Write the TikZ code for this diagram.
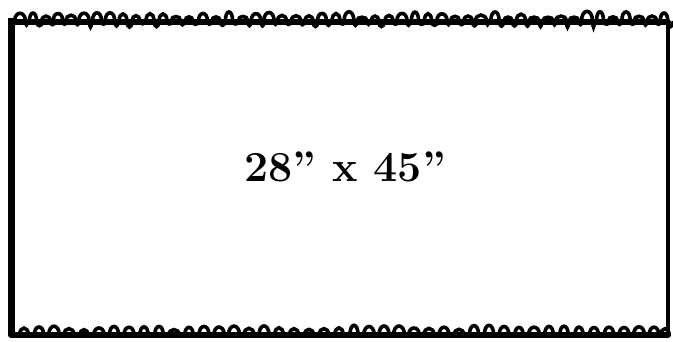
\documentclass[tikz,border=0pt]{standalone}
\usepackage{fontspec}
\begin{document}
\begin{tikzpicture}[x=1bp,y=-1bp,
  edge/.style={line width=6bp,line cap=round,line join=round},
  bump/.style={line width=3.6bp,line cap=round},
  label/.style={font=\fontsize{43}{48}\selectfont\bfseries,inner sep=0pt}]
\useasboundingbox (0,0) rectangle (673,341);
\coordinate (tl) at (11,22);
\coordinate (tr) at (668,22);
\coordinate (bl) at (11,335);
\coordinate (br) at (668,335);
\coordinate (tlc) at (11,18);
\draw[line width=7bp] (tlc) -- (bl);
\draw[line width=4.5bp] (tr) -- (br);
\draw[edge] (tl) -- (tr);
\draw[edge] (bl) -- (br);
\pgfmathsetseed{11}
\foreach \x in {20,33,46,58,71,84,97,110,123,136,150,163,176,189,203,216,229,243,256,269,282,296,309,322,336,349,362,375,389,402,415,428,442,455,468,481,495,508,521,534,548,561,574,587,600,613,626,639,652,664} {
  \pgfmathsetmacro\h{5+8*rnd}
  \pgfmathsetmacro\w{3.5+2*rnd}
  \pgfmathsetmacro\d{2+5*rnd}
  \draw[bump] (\x-\w,21) .. controls (\x-\w,21-\h) and (\x+\w,21-\h) .. (\x+\w,21);
  \draw[bump] (\x+\w,22) .. controls (\x+\w+1,22+\d) and (\x+13-\w-1,22+\d) .. (\x+13-\w,22);
}
\foreach \x in {24,39,54,69,84,99,114,129,144,159,174,189,204,219,234,249,264,279,294,309,324,339,354,369,384,399,414,429,444,459,474,489,504,519,534,549,564,579,594,609,624,639,654,665} {
  \pgfmathsetmacro\h{7+6*rnd}
  \pgfmathsetmacro\w{4+1.5*rnd}
  \draw[bump] (\x-\w,335) .. controls (\x-\w,335-\h) and (\x+\w,335-\h) .. (\x+\w,335);
}
\node[label] (dim) at (345,167) {28” x 45”};
\end{tikzpicture}
\end{document}
